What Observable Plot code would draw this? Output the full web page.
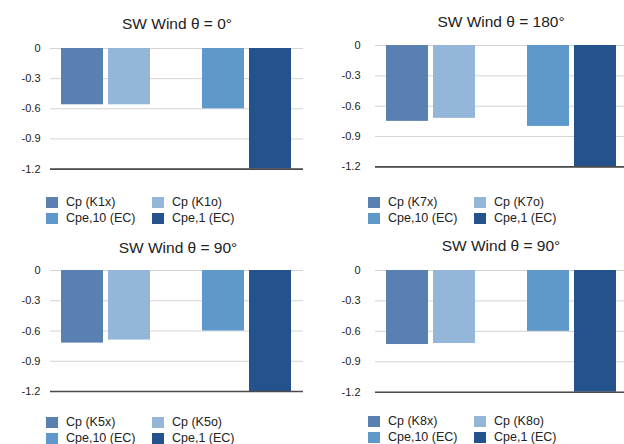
<!DOCTYPE html>
<html>
<head>
<meta charset="utf-8">
<script src="https://cdn.jsdelivr.net/npm/d3@7"></script>
<script src="https://cdn.jsdelivr.net/npm/@observablehq/plot@0.6"></script>
<style>
  html, body { margin: 0; padding: 0; background: #fff; }
  #root { position: relative; width: 624px; height: 444px; overflow: hidden; font-family: "Liberation Sans", Arial, sans-serif; color: #222; }
  .title { position: absolute; font-size: 15.5px; line-height: 18px; white-space: nowrap; transform: translateX(-50%); color: #222; }
  .plot { position: absolute; }
  .legend { position: absolute; }
  .item { position: absolute; height: 15px; line-height: 15px; font-size: 12.5px; white-space: nowrap; }
  .sw { position: absolute; left: 0; top: 2px; width: 12px; height: 11px; }
  .lbl { position: absolute; left: 20px; top: 0; }
</style>
</head>
<body>
<div id="root"></div>
<script>
// ---- data ----
const titles = ["SW Wind θ = 0°", "SW Wind θ = 180°", "SW Wind θ = 90°", "SW Wind θ = 90°"];
const series1 = ["Cp (K1x)", "Cp (K1o)", "Cpe,10 (EC)", "Cpe,1 (EC)"];
const series2 = ["Cp (K7x)", "Cp (K7o)", "Cpe,10 (EC)", "Cpe,1 (EC)"];
const series3 = ["Cp (K5x)", "Cp (K5o)", "Cpe,10 (EC)", "Cpe,1 (EC)"];
const series4 = ["Cp (K8x)", "Cp (K8o)", "Cpe,10 (EC)", "Cpe,1 (EC)"];
const values1 = [-0.56, -0.56, -0.60, -1.2];
const values2 = [-0.75, -0.72, -0.80, -1.2];
const values3 = [-0.72, -0.69, -0.60, -1.2];
const values4 = [-0.73, -0.72, -0.60, -1.2];
const yTicks = [0, -0.3, -0.6, -0.9, -1.2];
const colors = ["#5a80b1", "#94b6d9", "#5f98ca", "#23528d"];
const slots = ["s1", "s2", "gap", "s3", "s4"];   // category slots (third is empty)
const seriesKeys = ["s1", "s2", "s3", "s4"];

// ---- layout (positions only) ----
const panels = [
  {names: series1, values: values1, title: titles[0], left: 0,   zeroY: 47.7,  bottomY: 168.3, titleX: 177, titleTop: 15.3, tickPad: 10, legX: 46,  legY: 195},
  {names: series2, values: values2, title: titles[1], left: 325, zeroY: 45.3,  bottomY: 166.7, titleX: 501, titleTop: 12.8, tickPad: 15, legX: 368, legY: 195},
  {names: series3, values: values3, title: titles[2], left: 0,   zeroY: 270.3, bottomY: 391.3, titleX: 178, titleTop: 238.5, tickPad: 10, legX: 46,  legY: 415},
  {names: series4, values: values4, title: titles[3], left: 325, zeroY: 270.3, bottomY: 392,   titleX: 501, titleTop: 237.2, tickPad: 15, legX: 368, legY: 414}
];

const root = document.getElementById("root");

panels.forEach(p => {
  const data = seriesKeys.map((k, i) => ({key: k, name: p.names[i], value: p.values[i]}));
  const mTop = 10, mBottom = 6;
  const h = (p.bottomY - p.zeroY) + mTop + mBottom;
  const chart = Plot.plot({
    width: 312,
    height: h,
    marginLeft: 50,
    marginRight: 9,
    marginTop: mTop,
    marginBottom: mBottom,
    style: {fontFamily: "Liberation Sans, Arial, sans-serif", fontSize: "11px", color: "#222", background: "transparent", overflow: "visible"},
    x: {domain: slots, paddingInner: 0.1, paddingOuter: 0.2, axis: null},
    y: {domain: [-1.2, 0], axis: null},
    color: {domain: seriesKeys, range: colors},
    marks: [
      Plot.gridY(yTicks, {stroke: "#d4d4d4", strokeOpacity: 1, strokeWidth: 1}),
      Plot.barY(data, {x: "key", y: "value", fill: "key"}),
      Plot.ruleY([-1.2], {stroke: "#4a4a4a", strokeWidth: 1.6}),
      Plot.axisY(yTicks, {label: null, tickSize: 0, tickPadding: p.tickPad, tickFormat: d => d === 0 ? "0" : d.toFixed(1), fill: "#222", fontSize: 11})
    ]
  });
  chart.classList.add("plot");
  chart.style.left = p.left + "px";
  chart.style.top = (p.zeroY - mTop) + "px";
  root.appendChild(chart);

  const t = document.createElement("div");
  t.className = "title";
  t.textContent = p.title;
  t.style.left = p.titleX + "px";
  t.style.top = p.titleTop + "px";
  root.appendChild(t);

  const leg = document.createElement("div");
  leg.className = "legend";
  leg.style.left = p.legX + "px";
  leg.style.top = p.legY + "px";
  data.forEach((d, i) => {
    const it = document.createElement("div");
    it.className = "item";
    it.style.left = (i % 2) * 106 + "px";
    it.style.top = Math.floor(i / 2) * 15.5 + "px";
    const sw = document.createElement("span");
    sw.className = "sw";
    sw.style.background = colors[i];
    const lb = document.createElement("span");
    lb.className = "lbl";
    lb.textContent = d.name;
    it.appendChild(sw); it.appendChild(lb);
    leg.appendChild(it);
  });
  root.appendChild(leg);
});
</script>
</body>
</html>
